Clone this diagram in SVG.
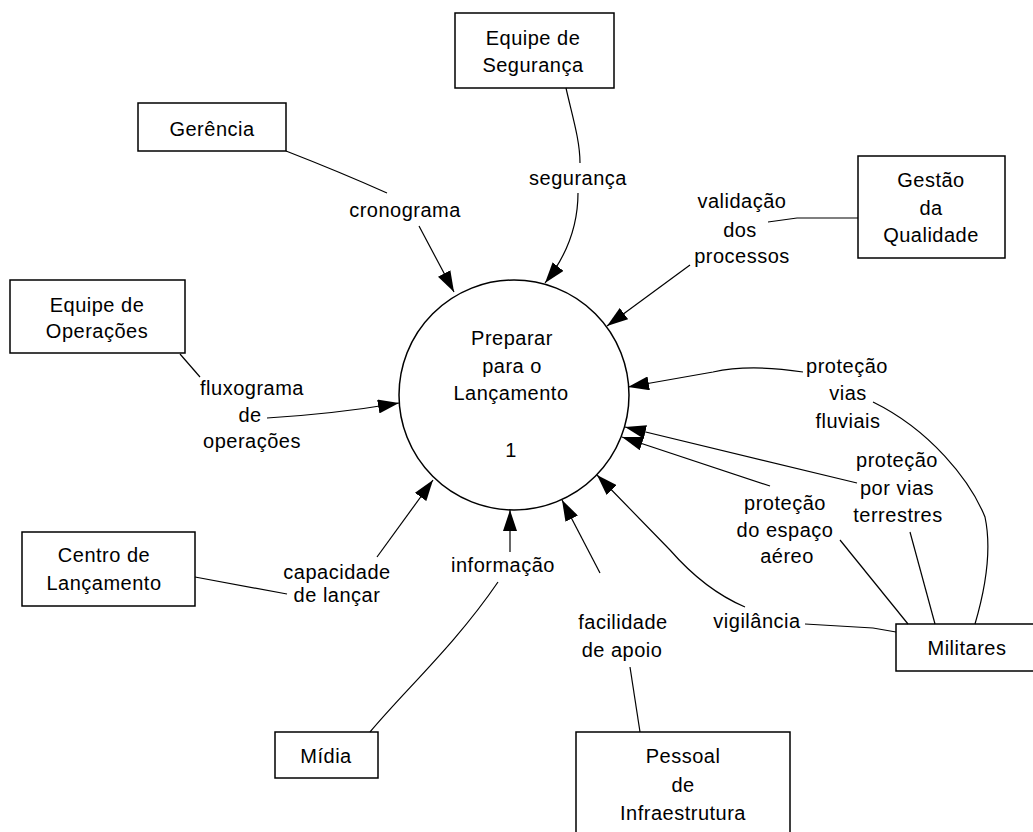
<svg xmlns="http://www.w3.org/2000/svg" width="1033" height="832" viewBox="0 0 1033 832">
<style>
text{font-family:"Liberation Sans",Arial,sans-serif;font-size:20px;fill:#000;text-anchor:middle;letter-spacing:0.5px}
.box{fill:#fff;stroke:#000;stroke-width:1.5}
.c{fill:none;stroke:#000;stroke-width:1.2}
</style>
<defs>
<marker id="arr" markerUnits="userSpaceOnUse" markerWidth="22" markerHeight="14" refX="21" refY="7" orient="auto">
<path d="M0,0 L21,7 L0,14 z" fill="#000"/>
</marker>
</defs>
<rect width="1033" height="832" fill="#fff"/>
<g id="process">
<circle cx="514" cy="395" r="115" fill="#fff" stroke="#000" stroke-width="1.5"/>
<text x="512" y="345">Preparar</text>
<text x="512" y="373">para o</text>
<text x="511" y="400">Lançamento</text>
<text x="511" y="457">1</text>
</g>
<g id="gerencia"><rect class="box" x="138" y="103" width="148" height="48"/><text x="212" y="136">Gerência</text></g>
<g id="seguranca"><rect class="box" x="455" y="13" width="159" height="75"/><text x="533" y="45">Equipe de</text><text x="533" y="72">Segurança</text></g>
<g id="qualidade"><rect class="box" x="858" y="156" width="147" height="102"/><text x="931" y="187">Gestão</text><text x="931" y="215">da</text><text x="931" y="242">Qualidade</text></g>
<g id="operacoes"><rect class="box" x="10" y="280" width="175" height="73"/><text x="97" y="312">Equipe de</text><text x="97" y="338">Operações</text></g>
<g id="centro"><rect class="box" x="22" y="532" width="173" height="74"/><text x="104" y="562">Centro de</text><text x="104" y="590">Lançamento</text></g>
<g id="midia"><rect class="box" x="275" y="732" width="103" height="46"/><text x="326" y="763">Mídia</text></g>
<g id="pessoal"><rect class="box" x="576" y="732" width="214" height="110"/><text x="683" y="763">Pessoal</text><text x="683" y="792">de</text><text x="683" y="820">Infraestrutura</text></g>
<g id="militares"><rect class="box" x="896" y="624" width="150" height="47"/><text x="967" y="655">Militares</text></g>
<g id="connectors">
<path class="c" d="M286,151 Q340,172 387,193"/>
<path class="c" d="M419,226 L454,292" marker-end="url(#arr)"/>
<text x="405" y="217">cronograma</text>
<path class="c" d="M566,88 C572,115 580,140 580,163"/>
<path class="c" d="M578,193 C578,230 565,258 545,283" marker-end="url(#arr)"/>
<text x="578" y="185">segurança</text>
<path class="c" d="M858,218 L797,218 L768,222"/>
<path class="c" d="M690,265 L607,326" marker-end="url(#arr)"/>
<text x="742" y="208">validação</text>
<text x="740" y="237">dos</text>
<text x="742" y="263">processos</text>
<path class="c" d="M180,354 L200,377"/>
<path class="c" d="M267,418 C300,416 340,413 399,403" marker-end="url(#arr)"/>
<text x="252" y="395">fluxograma</text>
<text x="250" y="422">de</text>
<text x="252" y="448">operações</text>
<path class="c" d="M195,577 L287,594"/>
<path class="c" d="M377,557 L433,480" marker-end="url(#arr)"/>
<text x="337" y="579">capacidade</text>
<text x="337" y="602">de lançar</text>
<path class="c" d="M370,732 C405,690 455,645 498,582"/>
<path class="c" d="M510,552 L510,510" marker-end="url(#arr)"/>
<text x="503" y="572">informação</text>
<path class="c" d="M640,732 L630,667"/>
<path class="c" d="M600,573 L562,500" marker-end="url(#arr)"/>
<text x="623" y="629">facilidade</text>
<text x="622" y="657">de apoio</text>
<path class="c" d="M896,632 L873,628 L805,624"/>
<path class="c" d="M745,607 Q705,590 670,550 L597,475" marker-end="url(#arr)"/>
<text x="757" y="628">vigilância</text>
<path class="c" d="M908,624 L840,540"/>
<path class="c" d="M770,486 L622,437" marker-end="url(#arr)"/>
<text x="785" y="510">proteção</text>
<text x="785" y="537">do espaço</text>
<text x="787" y="563">aéreo</text>
<path class="c" d="M935,624 L910,532"/>
<path class="c" d="M857,483 L625,427" marker-end="url(#arr)"/>
<text x="897" y="467">proteção</text>
<text x="897" y="495">por vias</text>
<text x="898" y="522">terrestres</text>
<path class="c" d="M975,624 C985,590 992,550 985,517 C970,480 930,430 873,402"/>
<path class="c" d="M803,372 C770,367 740,366 713,372 L628,387" marker-end="url(#arr)"/>
<text x="847" y="373">proteção</text>
<text x="848" y="400">vias</text>
<text x="848" y="428">fluviais</text>
</g>
</svg>
